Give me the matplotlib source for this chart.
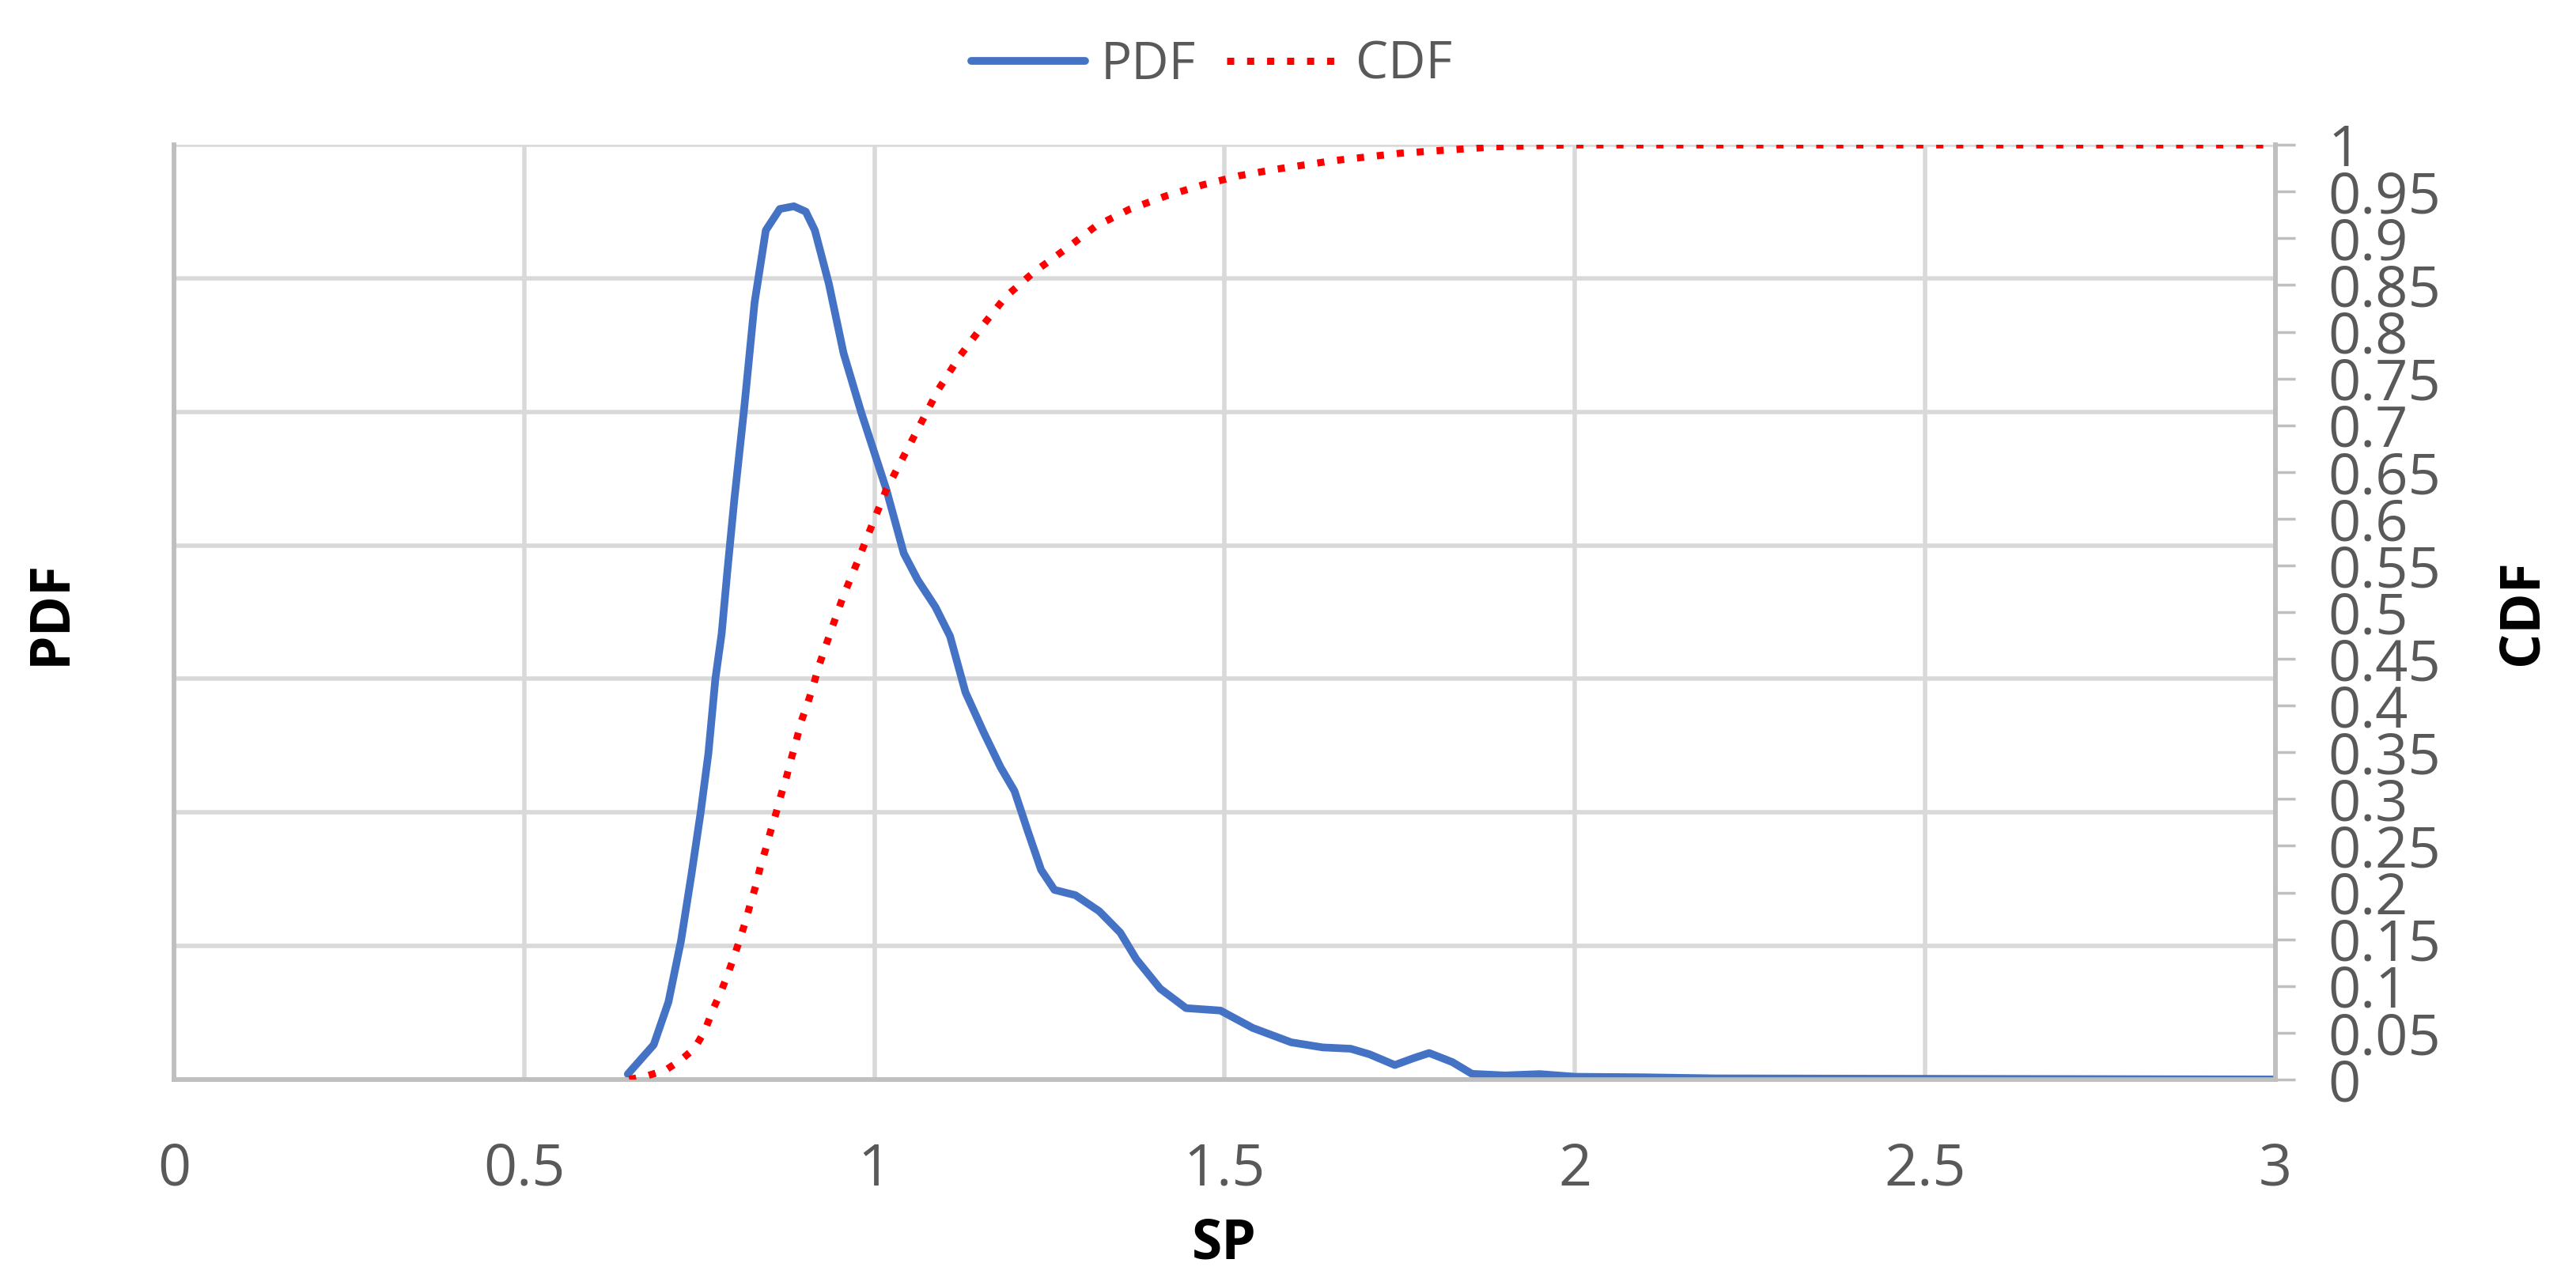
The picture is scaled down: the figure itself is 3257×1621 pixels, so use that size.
import numpy as np
import matplotlib
matplotlib.use("Agg")
import matplotlib.pyplot as plt

plt.rcParams['font.family'] = ['Open Sans', 'DejaVu Sans']

# PDF curve (SP, density)
pdf_x = [0.648, 0.685, 0.706, 0.724, 0.739, 0.752, 0.763, 0.773, 0.782, 0.790,
         0.800, 0.814, 0.829, 0.845, 0.865, 0.885, 0.902, 0.915, 0.935, 0.956,
         0.981, 1.017, 1.042, 1.062, 1.087, 1.108, 1.130, 1.156, 1.180, 1.200,
         1.219, 1.238, 1.257, 1.287, 1.321, 1.351, 1.374, 1.408, 1.445, 1.494,
         1.540, 1.595, 1.640, 1.680, 1.707, 1.743, 1.770, 1.792, 1.825, 1.853,
         1.900, 1.950, 2.000, 2.100, 2.200, 2.400, 2.600, 2.800, 3.000]
pdf_y = [0.02, 0.13, 0.29, 0.52, 0.77, 1.00, 1.22, 1.50, 1.67, 1.90,
         2.17, 2.51, 2.91, 3.18, 3.26, 3.27, 3.25, 3.18, 2.98, 2.72,
         2.50, 2.21, 1.97, 1.87, 1.77, 1.66, 1.45, 1.30, 1.17, 1.08,
         0.93, 0.785, 0.71, 0.69, 0.63, 0.55, 0.45, 0.34, 0.267, 0.258,
         0.193, 0.139, 0.12, 0.115, 0.094, 0.054, 0.08, 0.099, 0.065, 0.021,
         0.015, 0.02, 0.01, 0.008, 0.004, 0.003, 0.002, 0.001, 0.0]

# CDF curve
cdf_x = [0.650, 0.676, 0.702, 0.724, 0.743, 0.758, 0.769, 0.780, 0.790, 0.799,
         0.808, 0.816, 0.823, 0.831, 0.837, 0.845, 0.852, 0.860, 0.867, 0.875,
         0.882, 0.889, 0.896, 0.905, 0.913, 0.921, 0.938, 0.956, 0.977, 0.997,
         1.017, 1.042, 1.067, 1.092, 1.122, 1.155, 1.188, 1.228, 1.274, 1.316,
         1.364, 1.415, 1.468, 1.521, 1.574, 1.654, 1.750, 1.887, 1.990, 3.000]
cdf_y = [0.0, 0.004, 0.010, 0.021, 0.033, 0.052, 0.074, 0.092, 0.111, 0.130,
         0.150, 0.169, 0.188, 0.208, 0.227, 0.247, 0.266, 0.286, 0.305, 0.325,
         0.345, 0.364, 0.384, 0.403, 0.422, 0.443, 0.480, 0.518, 0.556, 0.594,
         0.631, 0.667, 0.703, 0.739, 0.774, 0.807, 0.838, 0.864, 0.889, 0.913,
         0.931, 0.945, 0.957, 0.967, 0.974, 0.983, 0.991, 0.998, 1.0, 1.0]

x_ticks = [0, 0.5, 1, 1.5, 2, 2.5, 3]
pdf_grid = [0, 0.5, 1, 1.5, 2, 2.5, 3, 3.5]
cdf_ticks = [i * 0.05 for i in range(21)]

grey_txt = '#595959'
grid_c = '#D9D9D9'
axis_c = '#BFBFBF'

fig = plt.figure(figsize=(32.57, 16.21), dpi=100)
ax = fig.add_axes([0.0675, 0.158, 0.8158, 0.729])
ax2 = ax.twinx()

l1, = ax.plot(pdf_x, pdf_y, color='#4472C4', lw=7, solid_capstyle='round',
              solid_joinstyle='round', label='PDF', zorder=3)
l2, = ax2.plot(cdf_x, cdf_y, color='#FF0000', lw=6.5, dashes=(1, 1.8),
               dash_capstyle='butt', label='CDF', zorder=3)

ax.set_xlim(0, 3)
ax.set_ylim(0, 3.5)
ax2.set_ylim(0, 1)

ax.set_xticks(x_ticks)
ax.set_xticklabels([f"{v:g}" for v in x_ticks])
ax.set_yticks(pdf_grid)
ax.set_yticklabels([])
ax.tick_params(axis='x', length=0, pad=56, labelsize=53, labelcolor=grey_txt)
ax.tick_params(axis='y', length=0)
ax.grid(True, color=grid_c, lw=4)
ax.set_axisbelow(True)

# right axis labels are packed tight, as in the original
ax2.set_yticks(cdf_ticks)
ax2.set_yticklabels([f"{round(v, 2):g}" for v in cdf_ticks])
ax2.tick_params(axis='y', direction='out', length=18, width=2.5, color=axis_c,
                pad=30, labelsize=52, labelcolor=grey_txt)

for a in (ax, ax2):
    a.spines['top'].set_visible(False)
    for s in ('left', 'right', 'bottom'):
        a.spines[s].set_color(axis_c)
        a.spines[s].set_linewidth(4)

fig.text(65 / 3257, 0.5225, 'PDF', rotation=90, ha='center', va='center',
         fontsize=50, fontweight='bold', color='black')
fig.text(3190 / 3257, 0.5225, 'CDF', rotation=90, ha='center', va='center',
         fontsize=50, fontweight='bold', color='black')
fig.text(0.4753, 0.029, 'SP', ha='center', va='center',
         fontsize=50, fontweight='bold', color='black')

leg = fig.legend(handles=[l1, l2], loc='center', bbox_to_anchor=(0.4705, 0.949),
                 ncol=2, frameon=False, fontsize=47, handlelength=2.2,
                 handletextpad=0.3, columnspacing=0.6)
for t in leg.get_texts():
    t.set_color(grey_txt)

fig.savefig('out.png', dpi=100)
